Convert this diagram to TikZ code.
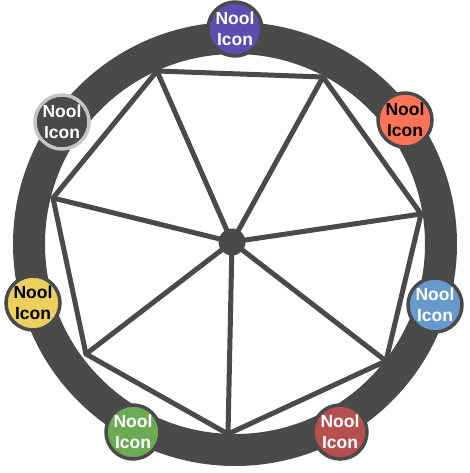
\documentclass[tikz,border=0pt]{standalone}
\usepackage{fontspec}
\setmainfont{Liberation Sans}
\usetikzlibrary{positioning}

\definecolor{ringgray}{HTML}{4A4A4A}
\definecolor{noolpurple}{HTML}{5E4DAF}
\definecolor{noolorange}{HTML}{FF7357}
\definecolor{noolblue}{HTML}{6699CC}
\definecolor{noolred}{HTML}{B5504E}
\definecolor{noolgreen}{HTML}{6DAA55}
\definecolor{noolyellow}{HTML}{EDCF5E}
\definecolor{noolgray}{HTML}{4A4A4A}
\definecolor{noolrim}{HTML}{C4C4C4}

\begin{document}
\begin{tikzpicture}[
    x=1pt, y=-1pt,
    ring/.style={draw=ringgray, line width=32pt},
    edge/.style={draw=ringgray, line width=5pt, line join=round, line cap=round},
    icon/.style={circle, draw=ringgray, line width=3.5pt, minimum size=54pt, inner sep=0pt,
                 align=center, font=\fontsize{17.5}{21}\selectfont\bfseries, text=white},
    darktext/.style={text=black}
]
\useasboundingbox (0,0) rectangle (469,473);

% Ring
\coordinate (ringc) at (235,244);
\draw[ring] (ringc) circle (206);

% Heptagon corners
\coordinate (v1) at (157,71);
\coordinate (v2) at (323,77);
\coordinate (v3) at (421,214);
\coordinate (v4) at (386,361);
\coordinate (v5) at (228,434);
\coordinate (v6) at (86,354);
\coordinate (v7) at (53,198);
\node[circle, fill=ringgray, minimum size=27pt, inner sep=0pt] (hub) at (232,242) {};

% Spokes
\foreach \v in {v1,v2,v3,v4,v5,v6,v7}
    \draw[edge] (hub.center) -- (\v);
\draw[edge] (v1) -- (v2) -- (v3) -- (v4) -- (v5) -- (v6) -- (v7) -- cycle;

% Icons
\node[icon, fill=noolpurple] (top) at (235,29) {Nool\\Icon};
\node[icon, fill=noolorange, darktext] (upright) at (405,120) {Nool\\Icon};
\node[icon, fill=noolblue] (right) at (435,305) {Nool\\Icon};
\node[icon, fill=noolred] (downright) at (340,432) {Nool\\Icon};
\node[icon, fill=noolgreen] (downleft) at (133,432) {Nool\\Icon};
\node[icon, fill=noolyellow, darktext] (left) at (33,303) {Nool\\Icon};
\node[icon, fill=noolgray, draw=noolrim] (upleft) at (62,122) {Nool\\Icon};

\end{tikzpicture}
\end{document}
